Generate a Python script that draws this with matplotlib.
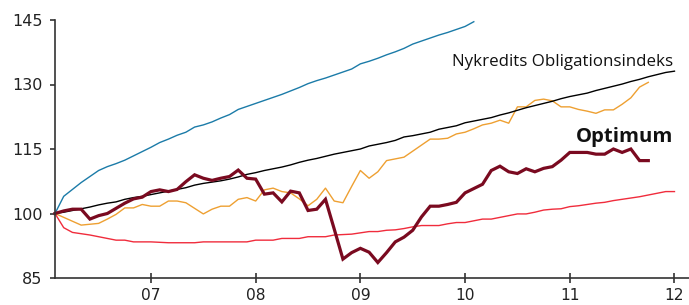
import matplotlib
matplotlib.use("Agg")
import matplotlib.pyplot as plt
import numpy as np

# Monthly observations starting Feb 2006 (index 0 = 2006 + 1/12)
start_year = 2006 + 1 / 12

optimum = [100.0, 100.6, 101.0, 101.0, 98.7, 99.5, 100.0, 101.2, 102.4, 103.4,
           103.8, 105.1, 105.5, 105.1, 105.6, 107.4, 109.0, 108.2, 107.7, 108.2,
           108.6, 110.1, 108.2, 108.0, 104.5, 104.8, 102.7, 105.2, 104.8, 100.7,
           101.0, 103.3, 96.4, 89.4, 90.9, 91.9, 91.0, 88.6, 90.9, 93.4,
           94.5, 96.1, 99.2, 101.7, 101.7, 102.1, 102.6, 104.8, 105.8, 106.8,
           110.0, 111.0, 109.7, 109.3, 110.4, 109.7, 110.5, 110.9, 112.4, 114.2,
           114.2, 114.2, 113.8, 113.8, 115.0, 114.2, 115.0, 112.3, 112.3]

nykredit = [100.0, 100.3, 100.7, 101.1, 101.5, 102.0, 102.4, 102.7, 103.3, 103.7,
            104.0, 104.4, 104.8, 105.2, 105.6, 106.0, 106.6, 107.0, 107.3, 107.6,
            108.0, 108.5, 109.1, 109.5, 110.0, 110.4, 110.8, 111.3, 111.9, 112.4,
            112.8, 113.3, 113.8, 114.2, 114.6, 115.0, 115.7, 116.1, 116.5, 117.0,
            117.8, 118.1, 118.5, 118.9, 119.6, 120.0, 120.4, 121.1, 121.5, 121.9,
            122.3, 122.9, 123.4, 124.0, 124.6, 125.1, 125.6, 126.1, 126.7, 127.2,
            127.6, 128.0, 128.6, 129.1, 129.6, 130.1, 130.7, 131.2, 131.8, 132.3,
            132.8, 133.1]

blue = [100.0, 104.0, 105.6, 107.2, 108.6, 110.0, 110.9, 111.6, 112.4, 113.4,
        114.4, 115.4, 116.5, 117.3, 118.2, 118.9, 120.1, 120.6, 121.3, 122.2,
        123.0, 124.2, 124.9, 125.6, 126.3, 127.0, 127.7, 128.5, 129.3, 130.2,
        130.9, 131.5, 132.2, 132.9, 133.6, 134.8, 135.4, 136.1, 136.9, 137.6,
        138.4, 139.4, 140.1, 140.8, 141.5, 142.1, 142.8, 143.5, 144.6]

orange = [100.0, 99.1, 98.2, 97.3, 97.5, 97.7, 98.7, 99.8, 101.3, 101.3,
          102.1, 101.7, 101.7, 102.9, 102.9, 102.5, 101.2, 99.9, 101.0, 101.7,
          101.7, 103.3, 103.7, 102.9, 105.5, 105.9, 105.1, 104.8, 103.4, 101.8,
          103.3, 105.9, 102.9, 102.5, 106.3, 110.0, 108.2, 109.7, 112.3, 112.7,
          113.1, 114.5, 115.9, 117.3, 117.3, 117.5, 118.5, 118.9, 119.7, 120.6,
          121.0, 121.7, 121.0, 124.8, 124.8, 126.3, 126.6, 126.2, 124.8, 124.8,
          124.2, 123.8, 123.3, 124.1, 124.1, 125.4, 126.9, 129.4, 130.5]

red = [100.0, 96.7, 95.6, 95.3, 95.0, 94.6, 94.2, 93.8, 93.8, 93.4,
       93.4, 93.4, 93.3, 93.2, 93.2, 93.2, 93.2, 93.4, 93.4, 93.4,
       93.4, 93.4, 93.4, 93.8, 93.8, 93.8, 94.2, 94.2, 94.2, 94.6,
       94.6, 94.6, 95.0, 95.1, 95.2, 95.5, 95.8, 95.8, 96.1, 96.2,
       96.5, 96.9, 97.2, 97.2, 97.2, 97.6, 97.9, 97.9, 98.3, 98.7,
       98.7, 99.1, 99.5, 99.9, 99.9, 100.3, 100.8, 101.0, 101.1, 101.6,
       101.8, 102.1, 102.4, 102.6, 103.0, 103.3, 103.6, 103.9, 104.3, 104.7,
       105.1, 105.1]

y_ticks = [85, 100, 115, 130, 145]
x_ticks = [2007, 2008, 2009, 2010, 2011, 2012]
x_tick_labels = ["07", "08", "09", "10", "11", "12"]

label_nykredit = "Nykredits Obligationsindeks"
label_optimum = "Optimum"


def xs(series):
    return start_year + np.arange(len(series)) / 12.0


fig = plt.figure(figsize=(6.89, 3.05), dpi=100)
ax = fig.add_axes([55 / 689, 27 / 305, 634 / 689, 258 / 305])

lw = 1.0
ax.plot(xs(blue), blue, color="#1b7ba8", lw=lw, clip_on=False)
ax.plot(xs(red), red, color="#f02c3c", lw=lw, clip_on=False)
ax.plot(xs(orange), orange, color="#eea032", lw=lw, clip_on=False)
ax.plot(xs(nykredit), nykredit, color="#000000", lw=lw, clip_on=False)
ax.plot(xs(optimum), optimum, color="#7a0a20", lw=2.3, clip_on=False,
        solid_joinstyle="miter")

ax.set_xlim(start_year, start_year + 634 / 104.7)
ax.set_ylim(85, 145)
ax.set_yticks(y_ticks)
ax.set_xticks(x_ticks)
ax.set_xticklabels(x_tick_labels)

for s in ["top", "right"]:
    ax.spines[s].set_visible(False)
for s in ["left", "bottom"]:
    ax.spines[s].set_color("#333333")
    ax.spines[s].set_linewidth(1.2)

ax.tick_params(axis="y", direction="out", length=3.5, width=1.2, color="#333333",
               labelsize=11.5, labelcolor="#222222", pad=5.5)
ax.tick_params(axis="x", direction="inout", length=7, width=1.2, color="#333333",
               labelsize=11.2, labelcolor="#222222", pad=3.8)

ax.text(2011.99, 134.3, label_nykredit, ha="right", va="baseline",
        fontsize=12.2, family="Open Sans", color="#111111")
ax.text(2011.99, 116.7, label_optimum, ha="right", va="baseline",
        fontsize=14.6, family="Open Sans", weight="bold", color="#111111")

fig.savefig("out.png", dpi=100)
